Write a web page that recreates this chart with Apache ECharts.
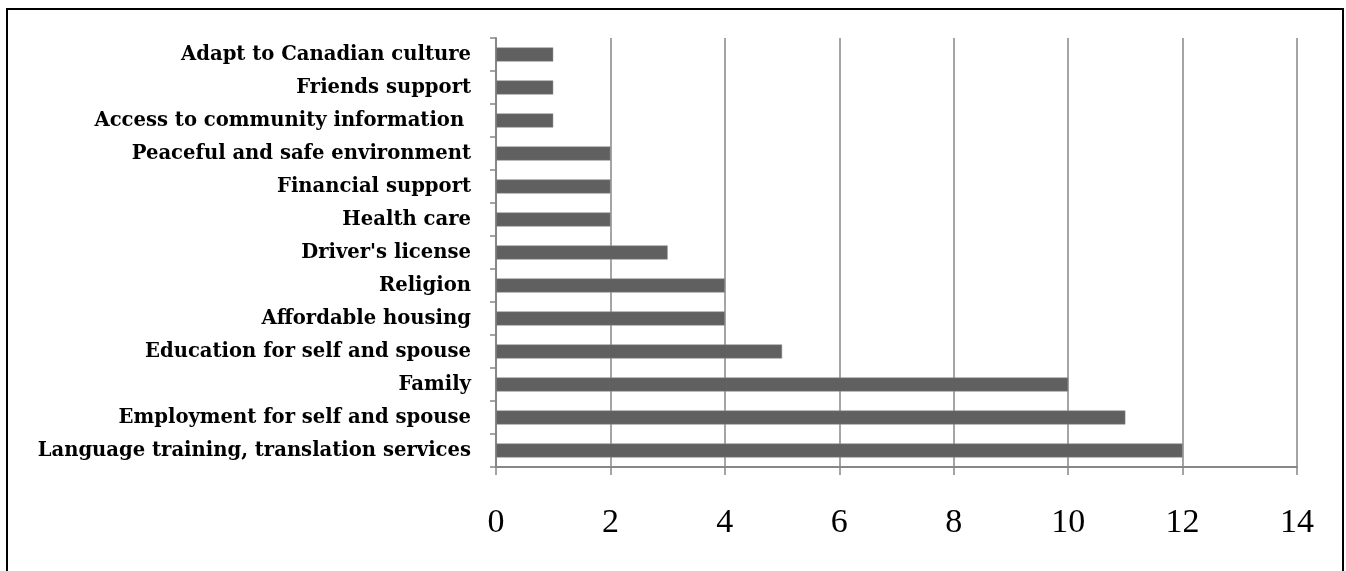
<!DOCTYPE html>
<html>
<head>
<meta charset="utf-8">
<script src="https://cdn.jsdelivr.net/npm/echarts@6/dist/echarts.min.js"></script>
<style>
html,body{margin:0;padding:0;background:#fff;}
#chart{width:1346px;height:571px;}
</style>
</head>
<body>
<div id="chart"></div>
<script>
// Categories listed bottom to top
var categories = [
  "Language training, translation services",
  "Employment for self and spouse",
  "Family",
  "Education for self and spouse",
  "Affordable housing",
  "Religion",
  "Driver's license",
  "Health care",
  "Financial support",
  "Peaceful and safe environment",
  "Access to community information ",
  "Friends support",
  "Adapt to Canadian culture"
];
var values = [12, 11, 10, 5, 4, 4, 3, 2, 2, 2, 1, 1, 1];
var xMin = 0, xMax = 14, xInterval = 2;

var chart = echarts.init(document.getElementById('chart'), null, {renderer: 'canvas'});
var axisGray = '#878787';
chart.setOption({
  animation: false,
  backgroundColor: '#ffffff',
  graphic: [{
    type: 'rect',
    shape: {x: 7, y: 9, width: 1336, height: 620},
    style: {fill: 'none', stroke: '#000', lineWidth: 2},
    silent: true
  }],
  grid: {left: 496, right: 49, top: 38, bottom: 104, containLabel: false},
  xAxis: {
    type: 'value',
    min: xMin, max: xMax, interval: xInterval,
    axisLine: {show: true, lineStyle: {color: axisGray, width: 2}},
    axisTick: {show: true, length: 8, lineStyle: {color: axisGray, width: 1.5}},
    splitLine: {show: true, lineStyle: {color: axisGray, width: 1.5}},
    axisLabel: {
      color: '#000', fontFamily: "'Liberation Serif', 'Times New Roman', serif", fontSize: 34, margin: 39
    }
  },
  yAxis: {
    type: 'category',
    data: categories,
    axisLine: {show: true, lineStyle: {color: axisGray, width: 2}},
    axisTick: {show: true, length: 6, lineStyle: {color: axisGray, width: 1.5}},
    splitLine: {show: false},
    axisLabel: {
      color: '#000', fontFamily: "'DejaVu Serif', serif", fontWeight: 'bold', fontSize: 19.6, margin: 25
    }
  },
  series: [{
    type: 'bar',
    data: values,
    barWidth: 14,
    itemStyle: {color: '#606060', borderColor: '#8a8a8a', borderWidth: 0.5},
    z: 3
  }]
});
</script>
</body>
</html>
